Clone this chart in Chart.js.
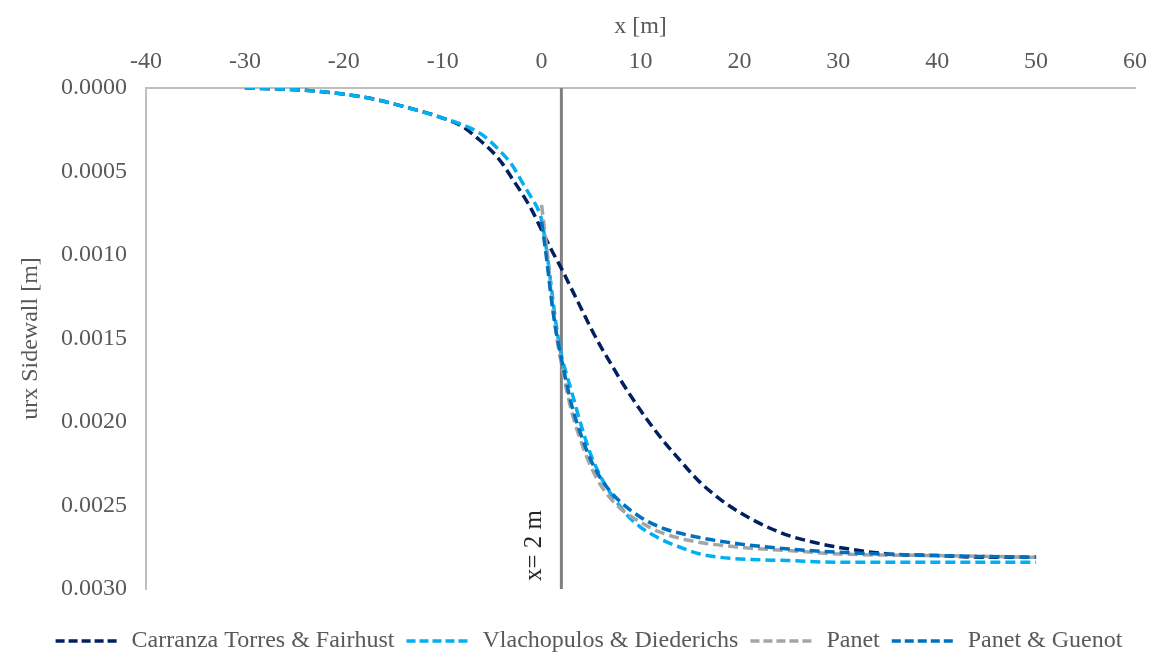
<!DOCTYPE html>
<html>
<head>
<meta charset="utf-8">
<script src="https://cdn.jsdelivr.net/npm/chart.js@4.4.0/dist/chart.umd.min.js"></script>
<style>
    body { margin: 0; background: #fff; }
    #wrap { width: 1159px; height: 653px; position: relative; }
</style>
</head>
<body>
<div id="wrap"><canvas id="urxChart"></canvas></div>
<script>
// distance along the tunnel [m] and sidewall displacement urx [m]
const xCarranza = [-30, -25, -21, -17.5, -14, -10, -8, -6.5, -5, -4, -3, -2, -1, 0, 1, 2, 3, 4, 5, 6, 7, 8, 10, 12, 14, 16, 18, 20, 22.5, 25, 27.5, 30, 35, 40, 45, 50];
const urxCarranza = [0, 0.00001, 0.00003, 0.00006, 0.00011, 0.00018, 0.00023, 0.0003, 0.00038, 0.00045, 0.00054, 0.00063, 0.00073, 0.00085, 0.00097, 0.00108, 0.0012, 0.00132, 0.00144, 0.00155, 0.00165, 0.00175, 0.00193, 0.00209, 0.00223, 0.00236, 0.00246, 0.00254, 0.00262, 0.00268, 0.00272, 0.00275, 0.00279, 0.0028, 0.00281, 0.00281];

const xVlach = [-30, -25, -21, -17.5, -14, -10, -8, -6, -4, -3, -2, -1, -0.5, 0, 0.5, 1, 1.5, 2, 2.5, 3, 4, 5, 6, 7, 8, 9, 10, 12, 14, 16, 18, 20, 25, 30, 40, 50];
const urxVlach = [0, 0.00001, 0.00003, 0.00006, 0.00011, 0.00018, 0.00022, 0.00028, 0.00039, 0.00046, 0.00056, 0.00066, 0.00071, 0.00079, 0.00097, 0.0012, 0.00143, 0.0016, 0.00171, 0.00181, 0.00202, 0.0022, 0.00233, 0.00243, 0.00251, 0.00258, 0.00263, 0.0027, 0.00275, 0.00279, 0.00281, 0.00282, 0.00283, 0.00284, 0.00284, 0.00284];

const xPanet = [0, 0.3, 0.6, 1, 1.5, 2, 2.5, 3, 4, 5, 6, 7, 8, 10, 12, 15, 20, 25, 30, 40, 50];
const urxPanet = [0.0007, 0.00085, 0.001, 0.00125, 0.00148, 0.00165, 0.0018, 0.00193, 0.00212, 0.00227, 0.00238, 0.00246, 0.00252, 0.0026, 0.00266, 0.00271, 0.00275, 0.00277, 0.00279, 0.0028, 0.00281];

const xGuenot = [0, 0.5, 1, 1.5, 2, 2.5, 3, 4, 5, 6, 7, 8, 10, 12, 15, 20, 25, 30, 40, 50];
const urxGuenot = [0.0008, 0.00102, 0.00127, 0.00147, 0.00162, 0.00176, 0.00189, 0.00208, 0.00223, 0.00234, 0.00242, 0.00248, 0.00257, 0.00263, 0.00268, 0.00273, 0.00276, 0.00278, 0.0028, 0.00281];

// face position marker
const xFace = [2, 2];
const urxFace = [0, 0.003];

const xTicks = { min: -40, max: 60, step: 10 };
const yTicks = { min: 0, max: 0.003, step: 0.0005 };

const toPoints = (xs, ys) => xs.map((x, i) => ({ x: x, y: ys[i] }));

const serif = 'Liberation Serif, Times New Roman, serif';
const textGray = '#595959';

// "x= 2 m" written along the face line
const faceLabel = {
    id: 'faceLabel',
    afterDatasetsDraw(chart) {
        const ctx = chart.ctx;
        const px = chart.scales.x.getPixelForValue(xFace[0]);
        const py = chart.scales.y.getPixelForValue(0.00274);
        ctx.save();
        ctx.translate(px - 27, py);
        ctx.rotate(-Math.PI / 2);
        ctx.font = '25px ' + serif;
        ctx.fillStyle = '#262626';
        ctx.textAlign = 'center';
        ctx.textBaseline = 'middle';
        ctx.fillText('x= 2 m', 0, 0);
        ctx.restore();
    }
};

// nudge the legend row a little to the right
const legendShift = {
    id: 'legendShift',
    afterLayout(chart) {
        chart.legend.left += 20;
        chart.legend.right += 20;
    }
};

function dashed(label, xs, ys, color, order) {
    return {
        label: label,
        data: toPoints(xs, ys),
        borderColor: color,
        backgroundColor: color,
        borderWidth: 3.5,
        borderDash: [10, 5],
        pointRadius: 0,
        cubicInterpolationMode: 'monotone',
        order: order
    };
}

new Chart(document.getElementById('urxChart'), {
    type: 'line',
    data: {
        datasets: [
            dashed('Carranza Torres & Fairhust', xCarranza, urxCarranza, '#002060', 4),
            dashed('Vlachopulos & Diederichs', xVlach, urxVlach, '#00b0f0', 3),
            dashed('Panet', xPanet, urxPanet, '#a5a5a5', 2),
            dashed('Panet & Guenot', xGuenot, urxGuenot, '#0070c0', 1),
            {
                label: 'face',
                data: toPoints(xFace, urxFace),
                borderColor: '#808080',
                borderWidth: 3,
                pointRadius: 0,
                order: 5
            }
        ]
    },
    options: {
        responsive: true,
        maintainAspectRatio: false,
        animation: false,
        layout: { padding: { left: 0, right: 21, top: 0, bottom: -10 } },
        scales: {
            x: {
                type: 'linear',
                position: 'top',
                min: xTicks.min,
                max: xTicks.max,
                grid: { display: false, drawTicks: false },
                border: { display: true, color: '#bfbfbf', width: 2 },
                ticks: {
                    stepSize: xTicks.step,
                    padding: 12,
                    color: textGray,
                    font: { family: serif, size: 24 }
                },
                title: {
                    display: true,
                    text: 'x [m]',
                    color: textGray,
                    font: { family: serif, size: 24 },
                    padding: { top: 12, bottom: 0 }
                },
                afterFit(scale) { scale.height = 88; }
            },
            y: {
                type: 'linear',
                reverse: true,
                min: yTicks.min,
                max: yTicks.max,
                grid: { display: false, drawTicks: false },
                border: { display: true, color: '#bfbfbf', width: 2 },
                ticks: {
                    stepSize: yTicks.step,
                    padding: 19,
                    color: textGray,
                    font: { family: serif, size: 24 },
                    callback: (v) => v.toFixed(4)
                },
                title: {
                    display: true,
                    text: 'urx Sidewall [m]',
                    color: textGray,
                    font: { family: serif, size: 24 },
                    padding: { top: 16, bottom: 0 }
                },
                afterFit(scale) { scale.width = 146; }
            }
        },
        plugins: {
            legend: {
                position: 'bottom',
                title: { display: true, text: '', font: { size: 10, lineHeight: 1 }, padding: 9 },
                labels: {
                    usePointStyle: true,
                    pointStyle: 'line',
                    pointStyleWidth: 64,
                    padding: 12,
                    color: textGray,
                    font: { family: serif, size: 24 },
                    filter: (item) => item.datasetIndex < 4,
                    sort: (a, b) => a.datasetIndex - b.datasetIndex,
                    // keep the dashed stroke of each series in its legend sample
                    generateLabels(chart) {
                        const items = Chart.defaults.plugins.legend.labels.generateLabels(chart);
                        items.forEach((item) => {
                            const ds = chart.data.datasets[item.datasetIndex];
                            item.strokeStyle = ds.borderColor;
                            item.lineWidth = 3.5;
                            item.lineDash = [9, 4];
                        });
                        return items;
                    }
                }
            },
            tooltip: { enabled: false }
        }
    },
    plugins: [faceLabel, legendShift]
});
</script>
</body>
</html>
